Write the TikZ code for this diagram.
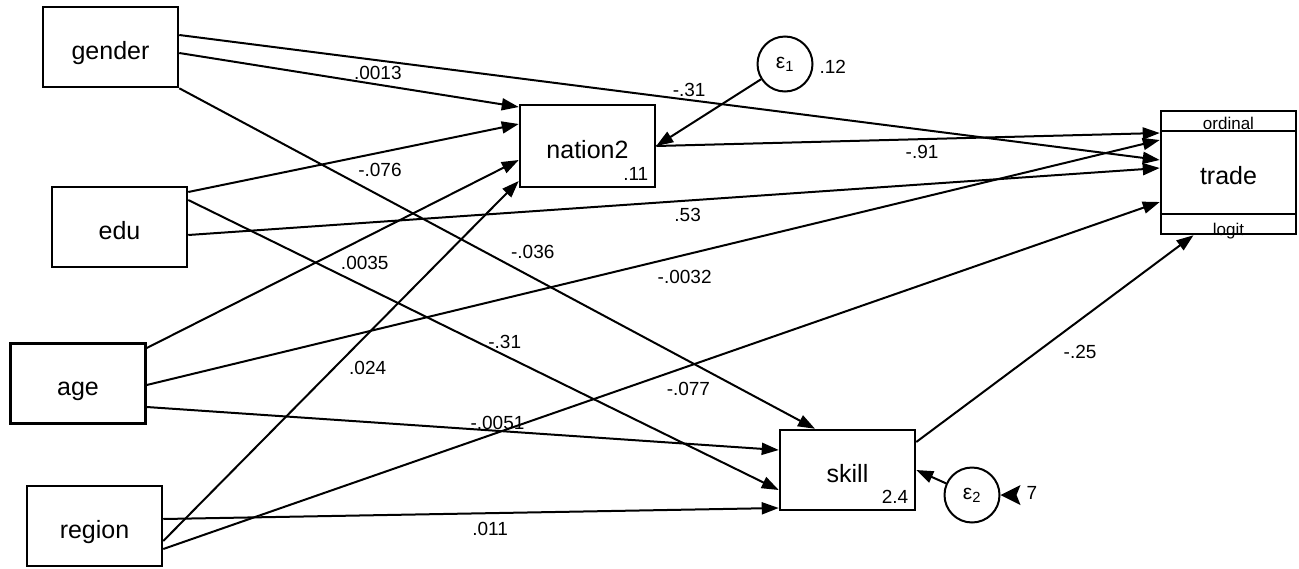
\documentclass[tikz,border=0pt]{standalone}
\usepackage{fontspec}
\setmainfont{Liberation Sans}
\usetikzlibrary{calc}
\usetikzlibrary{positioning}
\usetikzlibrary{arrows.meta}
\tikzset{every picture/.style={line width=2pt, >={Triangle[length=17pt,width=12pt]}}}
\tikzstyle{obsvar}=[draw,line width=2.5pt,minimum width=135pt,minimum height=80pt,inner sep=0pt,text height=24pt,text depth=0pt,font=\fontsize{25}{30}\selectfont]
\tikzstyle{errvar}=[draw,circle,minimum size=55pt,inner sep=0pt,font=\fontsize{21}{24}\selectfont]
\tikzstyle{coef}=[inner sep=0pt,font=\fontsize{19}{22}\selectfont]
\begin{document}
\begin{tikzpicture}[x=1pt,y=-1pt]
        \useasboundingbox (0,0) rectangle (1299,568);
        \node [obsvar] (gender) at (110.5,47) {gender};
        \node [obsvar] (edu) at (119.5,227) {edu};
        \node [obsvar] (age) at (78,383.5) {age};
        \node [obsvar] (region) at (94.5,526) {region};
        \node [obsvar,minimum height=82pt] (nation2) at (587.5,146) {nation2};
        \node [obsvar] (skill) at (847.5,470) {skill};
        \node [obsvar,minimum height=123pt] (trade) at (1228.5,172.5) {trade};
        \node [errvar] (e1) at (785,64) {ε\textsubscript{1}};
        \node [errvar] (e2) at (972,495) {ε\textsubscript{2}};
        \node [coef,right=5pt of e1,yshift=-3pt] (e1var) {.12};
        \node [coef,right=25pt of e2,yshift=2pt] (e2var) {7};
        \node [coef,anchor=south east] (n2var) at ([shift={(-7,-7)}]nation2.south east) {.11};
        \node [coef,anchor=south east] (skvar) at ([shift={(-7,-7)}]skill.south east) {2.4};
        \draw ([yshift=-21pt]trade.north west) -- ([yshift=-21pt]trade.north east);
        \draw ([yshift=21pt]trade.south west) -- ([yshift=21pt]trade.south east);
        \node [coef,anchor=base,font=\fontsize{17}{20}\selectfont] (ordlab) at ([yshift=-20pt]trade.north) {ordinal};
        \node [coef,anchor=base,font=\fontsize{17}{20}\selectfont] (loglab) at (trade.south) {logit};
        \fill (e2.east) -- ++(20,-10) -- ++(-4,10) -- ++(4,10) -- cycle;
        \draw [->] ([yshift=-6pt]gender.east) -- node [coef,pos=.585,yshift=12pt] {.0013} ([yshift=39pt]nation2.west);
        \draw [->] ([yshift=12pt]gender.east) -- node [coef,pos=.52,yshift=10pt] {-.31} ([yshift=12.5pt]trade.west);
        \draw [->] (gender.south east) -- node [coef,pos=.556,yshift=26pt] {-.036} ([xshift=-32.5pt]skill.north);
        \draw [->] ([yshift=35pt]edu.east) -- node [coef,pos=.58,yshift=-17pt] {-.076} ([yshift=22pt]nation2.west);
        \draw [->] ([yshift=-8pt]edu.east) -- node [coef,pos=.514,yshift=-14pt] {.53} ([yshift=4.5pt]trade.west);
        \draw [->] ([yshift=27pt]edu.east) -- node [coef,pos=.536,yshift=13.5pt] {-.31} ([yshift=-20pt]skill.west);
        \draw [->] ([yshift=35.5pt]age.east) -- node [coef,pos=.586,yshift=-25pt] {.0035} ([yshift=-14pt]nation2.west);
        \draw [->] ([yshift=-1.5pt]age.east) -- node [coef,pos=.531,yshift=-22pt] {-.0032} ([yshift=32.5pt]trade.west);
        \draw [->] ([yshift=-23.5pt]age.east) -- node [coef,pos=.555,yshift=8pt] {-.0051} ([yshift=20pt]skill.west);
        \draw [->] ([yshift=-15pt]region.east) -- node [coef,pos=.575,yshift=-34pt] {.024} ([yshift=-35pt]nation2.west);
        \draw [->] ([yshift=-23pt]region.east) -- node [coef,pos=.527,yshift=-23pt] {-.077} ([yshift=-29.5pt]trade.west);
        \draw [->] ([yshift=7pt]region.east) -- node [coef,pos=.531,yshift=-16pt] {.011} ([yshift=-38pt]skill.west);
        \draw [->] (nation2.east) -- node [coef,pos=.528,yshift=-13pt] {-.91} ([yshift=39.5pt]trade.west);
        \draw [->] ([yshift=28pt]skill.east) -- node [coef,pos=.591,yshift=-32pt] {-.25} ([xshift=-35pt]trade.south);
        \draw [->] (e1) -- (nation2.east);
        \draw [->] (e2) -- (skill.east);
\end{tikzpicture}
\end{document}
